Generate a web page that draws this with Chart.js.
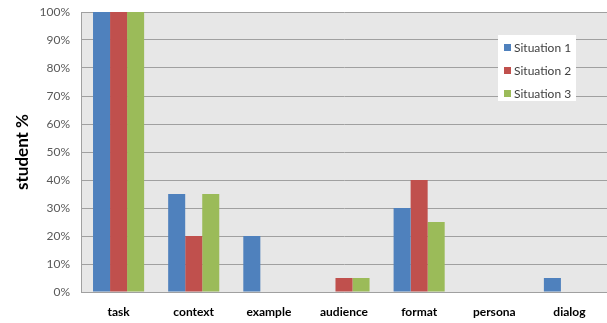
<!DOCTYPE html>
<html>
<head>
<meta charset="utf-8">
<script src="https://cdn.jsdelivr.net/npm/chart.js@4"></script>
<style>
  html, body { margin: 0; padding: 0; background: #fff; }
  #wrap { width: 607px; height: 323px; }
</style>
</head>
<body>
<div id="wrap"><canvas id="studentChart"></canvas></div>
<script>
const categories = ['task', 'context', 'example', 'audience', 'format', 'persona', 'dialog'];
const situation1 = [100, 35, 20, 0, 30, 0, 5];
const situation2 = [100, 20, 0, 5, 40, 0, 0];
const situation3 = [100, 35, 0, 5, 25, 0, 0];
const yTicks = [0, 10, 20, 30, 40, 50, 60, 70, 80, 90, 100];

const ctx = document.getElementById('studentChart');

// grey plot background + legend box inside plot area
const plotBg = {
    id: 'plotBg',
    beforeDraw(chart) {
        const { ctx, chartArea: a } = chart;
        ctx.save();
        ctx.fillStyle = '#e7e7e7';
        ctx.fillRect(a.left, a.top, a.right - a.left, a.bottom - a.top);
        ctx.restore();
    },
    afterDatasetsDraw(chart) {
        const { ctx } = chart;
        const x = 498, y = 35, w = 78, h = 66;
        ctx.save();
        ctx.fillStyle = '#ffffff';
        ctx.fillRect(x, y, w, h);
        ctx.font = '12px Lato, sans-serif';
        ctx.textBaseline = 'middle';
        chart.data.datasets.forEach((ds, i) => {
            const cy = y + 12 + i * 23;
            ctx.fillStyle = ds.backgroundColor;
            ctx.fillRect(x + 6, cy - 3, 7, 7);
            ctx.fillStyle = '#404040';
            ctx.fillText(ds.label, x + 16, cy + 1);
        });
        ctx.restore();
    },
};

new Chart(ctx, {
    type: 'bar',
    data: {
        labels: categories,
        datasets: [
            { label: 'Situation 1', data: situation1, backgroundColor: '#4f81bd' },
            { label: 'Situation 2', data: situation2, backgroundColor: '#c0504d' },
            { label: 'Situation 3', data: situation3, backgroundColor: '#9bbb59' },
        ],
    },
    options: {
        responsive: true,
        maintainAspectRatio: false,
        animation: false,
        layout: { padding: { top: 12, right: 0, left: 0, bottom: 0 } },
        datasets: {
            bar: { barPercentage: 1, categoryPercentage: 0.68 },
        },
        plugins: {
            legend: { display: false },
            tooltip: { enabled: false },
        },
        scales: {
            x: {
                grid: { display: false, drawTicks: false },
                border: { color: '#a0a0a0' },
                afterFit: (scale) => { scale.height = 31; },
                ticks: {
                    color: '#000',
                    padding: 13,
                    font: { family: 'Lato, sans-serif', size: 12, weight: 'bold' },
                },
            },
            y: {
                min: 0,
                max: 100,
                afterBuildTicks: (axis) => {
                    axis.ticks = yTicks.map((v) => ({ value: v }));
                },
                afterFit: (scale) => {
                    scale.width = 81;
                    scale.paddingTop = 0;
                    scale.paddingBottom = 0;
                },
                grid: { color: '#a0a0a0', drawTicks: false },
                border: { color: '#a0a0a0' },
                ticks: {
                    color: '#595959',
                    padding: 11,
                    font: { family: 'Lato, sans-serif', size: 12 },
                    callback: (v) => v + '%',
                },
                title: {
                    display: true,
                    text: 'student %',
                    color: '#000',
                    padding: { top: 12, bottom: 0 },
                    font: { family: 'Lato, sans-serif', size: 17, weight: 'bold' },
                },
            },
        },
    },
    plugins: [plotBg],
});
</script>
</body>
</html>
